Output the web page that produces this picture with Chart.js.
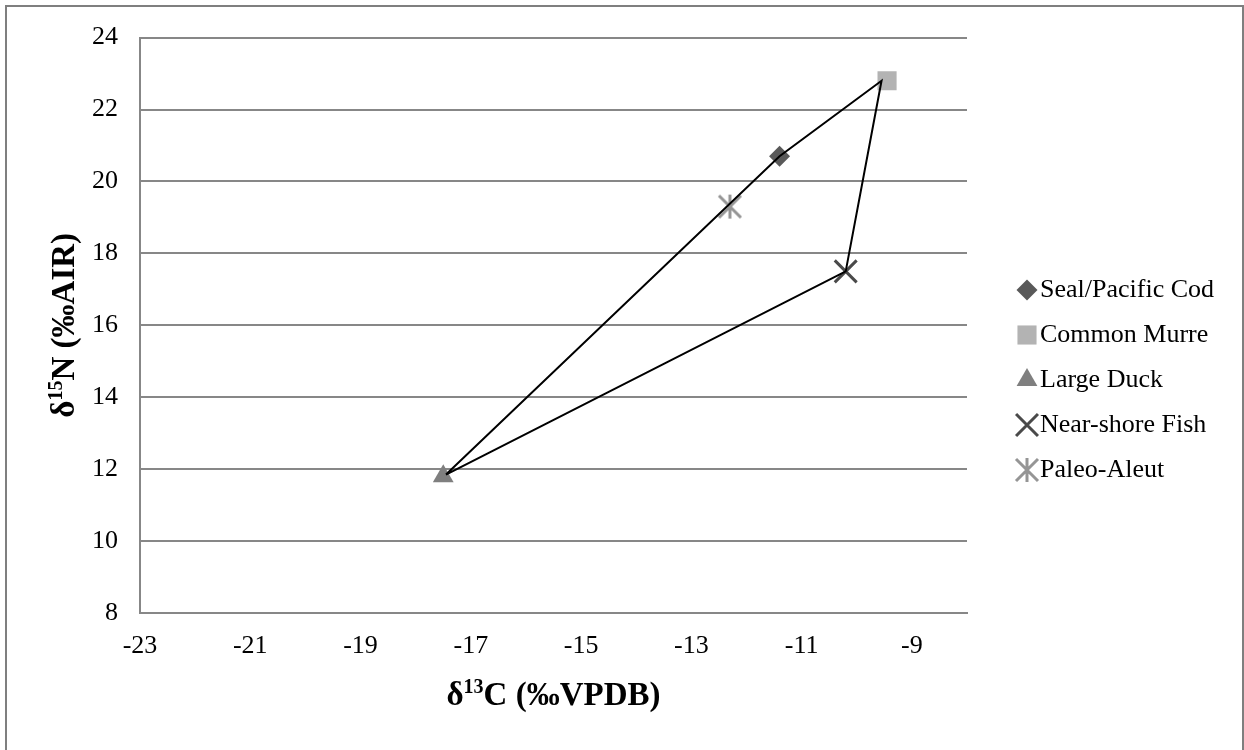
<!DOCTYPE html>
<html>
<head>
<meta charset="utf-8">
<script src="https://cdn.jsdelivr.net/npm/chart.js@4/dist/chart.umd.min.js"></script>
<style>
  html, body { margin: 0; padding: 0; background: #fff; overflow: hidden; }
  .frame { position: absolute; left: 5px; top: 5px; width: 1239px; height: 760px; border: 2px solid #7f7f7f; box-sizing: border-box; }
  #chart { position: absolute; left: 0; top: 0; }
</style>
</head>
<body>
<div class="frame"></div>
<canvas id="chart" width="1244" height="750"></canvas>
<script>
const xTicks = [-23, -21, -19, -17, -15, -13, -11, -9];
const yTicks = [8, 10, 12, 14, 16, 18, 20, 22, 24];

const seriesNames = ["Seal/Pacific Cod", "Common Murre", "Large Duck", "Near-shore Fish", "Paleo-Aleut"];
const carbon = [-11.4, -9.45, -17.5, -10.2, -12.3];
const nitrogen = [20.7, 22.8, 11.8, 17.5, 19.3];

// outline joining the groups (drawn as its own series)
const hullCarbon = [-17.45, -11.4, -9.55, -10.2, -17.45];
const hullNitrogen = [11.85, 20.7, 22.8, 17.5, 11.85];

const tickFont = { family: "'Liberation Serif', 'Times New Roman', serif", size: 26 };
const gridColor = "#878787";

// excel style star marker: an X with a vertical bar
const starMark = document.createElement("canvas");
starMark.width = 26;
starMark.height = 26;
const sctx = starMark.getContext("2d");
sctx.strokeStyle = "#959595";
sctx.lineWidth = 3;
sctx.beginPath();
sctx.moveTo(13, 1);
sctx.lineTo(13, 25);
sctx.moveTo(2, 2);
sctx.lineTo(24, 24);
sctx.moveTo(24, 2);
sctx.lineTo(2, 24);
sctx.stroke();

const markers = [
  { style: "rectRot", radius: 10.5, color: "#595959", width: 0 },
  { style: "rect", radius: 13.5, color: "#b3b3b3", width: 0 },
  { style: "triangle", radius: 12, color: "#7f7f7f", width: 0 },
  { style: "crossRot", radius: 15.5, color: "#4a4a4a", width: 3 },
  { style: starMark, radius: 13, color: "#959595", width: 0 },
];

const datasets = [
  {
    label: "outline",
    data: hullCarbon.map((x, i) => ({ x: x, y: hullNitrogen[i] })),
    showLine: true,
    borderColor: "#000",
    borderWidth: 2,
    pointRadius: 0,
    fill: false,
  },
];
seriesNames.forEach((name, i) => {
  const m = markers[i];
  datasets.push({
    label: name,
    data: [{ x: carbon[i], y: nitrogen[i] }],
    pointStyle: m.style,
    pointRadius: m.radius,
    backgroundColor: m.color,
    borderColor: m.color,
    borderWidth: m.width,
  });
});

// draw text with a superscript part
function richText(ctx, parts, x, y, size) {
  const big = "bold " + size + "px 'Liberation Serif', 'Times New Roman', serif";
  const small = "bold " + Math.round(size * 0.62) + "px 'Liberation Serif', 'Times New Roman', serif";
  let total = 0;
  parts.forEach((p) => {
    ctx.font = p.sup ? small : big;
    p.w = ctx.measureText(p.t).width;
    total += p.w;
  });
  let cx = x - total / 2;
  const base = y + size * 0.33;
  ctx.textAlign = "left";
  ctx.textBaseline = "alphabetic";
  ctx.fillStyle = "#000";
  parts.forEach((p) => {
    ctx.font = p.sup ? small : big;
    ctx.fillText(p.t, cx, p.sup ? base - size * 0.36 : base);
    cx += p.w;
  });
}

const titlePlugin = {
  id: "axisTitles",
  afterDraw(chart) {
    const ctx = chart.ctx;
    const area = chart.chartArea;
    ctx.save();
    richText(ctx, [{ t: "δ" }, { t: "13", sup: true }, { t: "C (‰VPDB)" }], (area.left + area.right) / 2, 694, 33);
    ctx.translate(63, (area.top + area.bottom) / 2);
    ctx.rotate(-Math.PI / 2);
    richText(ctx, [{ t: "δ" }, { t: "15", sup: true }, { t: "N (‰AIR)" }], 0, 0, 33);
    ctx.restore();
  },
};

const legendPlugin = {
  id: "sideLegend",
  afterDraw(chart) {
    const ctx = chart.ctx;
    ctx.save();
    seriesNames.forEach((name, i) => {
      const m = markers[i];
      const y = 290 + i * 45;
      ctx.fillStyle = m.color;
      ctx.strokeStyle = m.color;
      ctx.lineWidth = m.width;
      Chart.helpers.drawPoint(ctx, { pointStyle: m.style, radius: m.radius, borderWidth: m.width, rotation: 0 }, 1027, y);
      ctx.font = "26px 'Liberation Serif', 'Times New Roman', serif";
      ctx.fillStyle = "#000";
      ctx.textAlign = "left";
      ctx.textBaseline = "middle";
      ctx.fillText(name, 1040, y);
    });
    ctx.restore();
  },
};

new Chart(document.getElementById("chart"), {
  type: "scatter",
  data: { datasets: datasets },
  options: {
    responsive: false,
    animation: false,
    events: [],
    layout: { padding: { top: 35, right: 277, left: 0, bottom: 0 } },
    plugins: {
      legend: { display: false },
      tooltip: { enabled: false },
    },
    scales: {
      x: {
        type: "linear",
        min: -23,
        max: -8,
        afterBuildTicks: (s) => { s.ticks = xTicks.map((v) => ({ value: v })); },
        afterFit: (s) => { s.height = 137; },
        grid: { display: false, drawTicks: false },
        border: { display: true, color: gridColor, width: 2 },
        ticks: { font: tickFont, color: "#000", padding: 18, maxRotation: 0, autoSkip: false },
      },
      y: {
        type: "linear",
        min: 8,
        max: 24,
        afterBuildTicks: (s) => { s.ticks = yTicks.map((v) => ({ value: v })); },
        afterFit: (s) => { s.width = 140; },
        grid: { color: gridColor, lineWidth: 2, drawTicks: false },
        border: { display: true, color: gridColor, width: 2 },
        ticks: { font: tickFont, color: "#000", padding: 22, autoSkip: false },
      },
    },
  },
  plugins: [titlePlugin, legendPlugin],
});
</script>
</body>
</html>
